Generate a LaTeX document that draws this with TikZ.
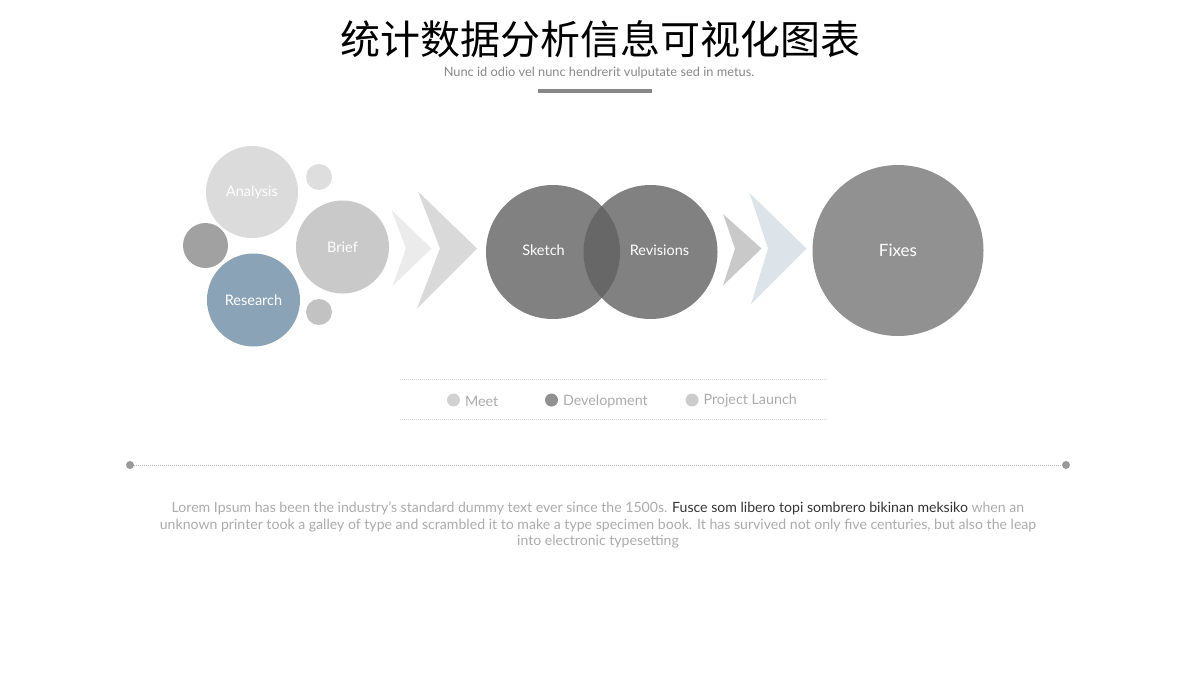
\documentclass[tikz,border=0pt]{standalone}
\usepackage{fontspec}
\setmainfont{Lato}
\newfontfamily\cjk{Noto Sans CJK SC}
\usepackage{tikz}

\definecolor{titlegray}{HTML}{888888}
\definecolor{textgray}{HTML}{ABABAB}
\definecolor{bluegray}{HTML}{8AA3B6}
\definecolor{dotgray}{HTML}{999999}

\begin{document}
\begin{tikzpicture}[x=1pt, y=-1pt,
		bubble/.style={circle, inner sep=0pt, text=white, font=\fontsize{14.5}{16}\selectfont},
		legdot/.style={circle, inner sep=0pt, minimum size=13pt},
		legtext/.style={anchor=west, text=textgray, font=\fontsize{14.3}{16}\selectfont}]
				\useasboundingbox (0,0) rectangle (1200,675);

				% titolo
				\node (title) at (600,39) {\cjk\fontsize{40}{44}\selectfont 统计数据分析信息可视化图表};
				\node[text=titlegray, font=\fontsize{12.8}{14}\selectfont] (subtitle) at (599,72.5) {Nunc id odio vel nunc hendrerit vulputate sed in metus.};
				\fill[titlegray] (538,89) rectangle (652,93);

				% bolle a sinistra
				\node[bubble, fill=black!14, minimum size=92pt] (analysis) at (252,192) {Analysis};
				\node[bubble, fill=black!13, minimum size=26pt] (dota) at (319,177) {};
				\node[bubble, fill=black!37, minimum size=45pt] (dotb) at (205.5,245.5) {};
				\node[bubble, fill=black!21, minimum size=93pt] (brief) at (342.5,247) {Brief};
				\node[bubble, fill=bluegray, minimum size=93pt] (research) at (253.5,300) {Research};
				\node[bubble, fill=black!24, minimum size=26pt] (dotc) at (319,312) {};

				% frecce
				\fill[black!8] (391.5,210) -- (431.5,248.5) -- (392.5,286) -- (406,248.5) -- cycle;
				\fill[black!15] (418,191.5) -- (477,248.5) -- (417,308.5) -- (440,248.5) -- cycle;

				% sketch e revisions
				\node[bubble, fill=black!62, fill opacity=0.8, text opacity=1, minimum size=134pt] (sketch) at (553,252) {};
				\node[bubble, fill=black!62, fill opacity=0.8, text opacity=1, minimum size=134pt] (revisions) at (650.5,252) {};
				\node[bubble] (sketchlabel) at (543.5,250) {Sketch};
				\node[bubble] (revisionslabel) at (659.5,250) {Revisions};

				\fill[black!21] (723,214) -- (761.5,248.5) -- (723,285.5) -- (735,248.5) -- cycle;
				\fill[bluegray!30] (749.5,193) -- (806.5,248.5) -- (751,304) -- (768,248.5) -- cycle;

				\node[bubble, fill=black!43, minimum size=171pt, font=\fontsize{17}{19}\selectfont] (fixes) at (898,250.5) {Fixes};

				% legenda
				\coordinate (legtl) at (400,379.5);
				\coordinate (legtr) at (826.5,379.5);
				\coordinate (legbl) at (400,419.5);
				\coordinate (legbr) at (826.5,419.5);
				\draw[black!15, line width=0.8pt, dash pattern=on 1pt off 1pt] (legtl) -- (legtr);
				\draw[black!15, line width=0.8pt, dash pattern=on 1pt off 1pt] (legbl) -- (legbr);

				\node[legdot, fill=black!18] (meetdot) at (453.5,400) {};
				\node[legtext] (meet) at (461.5,401) {Meet};
				\node[legdot, fill=black!43] (devdot) at (551.5,400) {};
				\node[legtext] (dev) at (559.5,401) {Development};
				\node[legdot, fill=black!20] (launchdot) at (692,400) {};
				\node[legtext] (launch) at (700,401) {Project Launch};

				% linea puntinata
				\node[circle, fill=dotgray, inner sep=0pt, minimum size=8pt] (lineleft) at (130,465) {};
				\node[circle, fill=dotgray, inner sep=0pt, minimum size=8pt] (lineright) at (1066,465) {};
				\draw[black!28, line width=0.7pt, dash pattern=on 1pt off 1pt] (lineleft) -- (lineright);

				% testo
				\node[text=textgray, align=center, font=\fontsize{14.1}{16.6}\selectfont] (body) at (598,525) {Lorem Ipsum has been the industry's standard dummy text ever since the 1500s. \textcolor{black!80}{Fusce som libero topi sombrero bikinan meksiko} when an\\unknown printer took a galley of type and scrambled it to make a type specimen book. It has survived not only five centuries, but also the leap\\into electronic typesetting};
			\end{tikzpicture}
\end{document}
